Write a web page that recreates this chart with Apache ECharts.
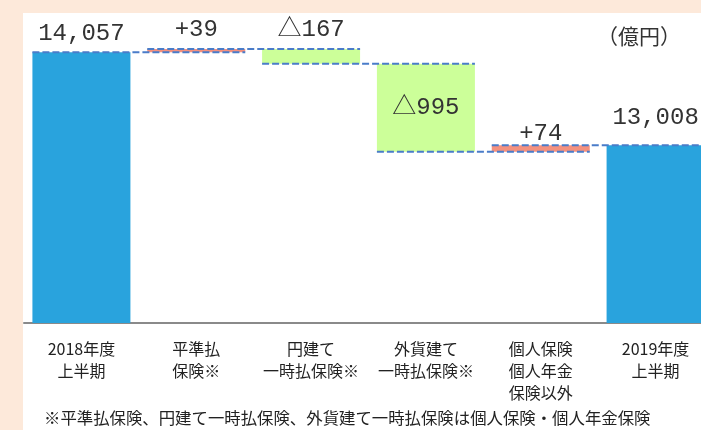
<!DOCTYPE html>
<html><head><meta charset="utf-8">
<script src="https://cdn.jsdelivr.net/npm/echarts@6/dist/echarts.min.js"></script>
<style>html,body{margin:0;padding:0;background:#fde9da;}#c{width:701px;height:430px;}</style>
</head><body><div id="c"></div>
<script>
const categories = ['2018年度\n上半期','平準払\n保険※','円建て\n一時払保険※','外貨建て\n一時払保険※','個人保険\n個人年金\n保険以外','2019年度\n上半期'];
const startTotal = 14057;
const changes = [39, -167, -995, 74];
const endTotal = 13008;
const unitLabel = '（億円）';
const footnote = '※平準払保険、円建て一時払保険、外貨建て一時払保険は個人保険・個人年金保険';

// derived waterfall pieces
const levels = [startTotal];
changes.forEach(c => levels.push(levels[levels.length-1] + c));
const baseData = ['-'], deltaData = ['-'], totalData = [startTotal];
changes.forEach((c, i) => {
  baseData.push(Math.min(levels[i], levels[i+1]));
  deltaData.push(Math.abs(c));
  totalData.push('-');
});
baseData.push('-'); deltaData.push('-'); totalData.push(endTotal);
// connector between category i and i+1 at the running level after bar i
const connectors = [];
for (let i = 0; i < categories.length - 1; i++) connectors.push([i, levels[Math.min(i, levels.length-1)]]);

const fmt = v => v.toLocaleString('en-US');
const numFont = '"Liberation Mono","Noto Sans CJK JP",monospace';
const deltaDist = [7, 7, 0, 0];
const totalDist = [7, 0, 0, 0, 0, 16];
const deltaColors = changes.map(c => c >= 0 ? '#f4917f' : '#ccff99');

const chart = echarts.init(document.getElementById('c'), null, {renderer:'canvas'});
chart.setOption({
  backgroundColor: '#fde9da',
  animation: false,
  graphic: [
    {type:'rect', z:-10, shape:{x:23, y:13, width:700, height:430}, style:{fill:'#ffffff'}},
    {type:'text', left:597, top:26, style:{text:unitLabel, font:'21px "Noto Sans CJK JP"', fill:'#333'}},
    {type:'text', left:44, top:410, style:{text:footnote, font:'16.4px "Noto Sans CJK JP"', fill:'#222'}}
  ],
  grid: {left:24, right:-12, top:22, bottom:107, outerBoundsMode:'none'},
  xAxis: {
    type:'category', data:categories,
    axisLine:{lineStyle:{color:'#8a8a8a', width:2}},
    axisTick:{show:false},
    axisLabel:{interval:0, color:'#222', fontSize:16, lineHeight:22, margin:15, fontFamily:'"Noto Sans CJK JP"'}
  },
  yAxis: {type:'value', min:11000, max:14400, show:false, splitLine:{show:false}},
  series: [
    {type:'bar', stack:'w', barWidth:98, data:baseData, itemStyle:{color:'transparent'}, silent:true},
    {type:'bar', stack:'w', barWidth:98,
      data: deltaData.map((v, i) => {
        if (v === '-') return '-';
        const c = changes[i-1];
        const inside = i === 3;
        return {value:v, itemStyle:{color:deltaColors[i-1]},
          label:{show:true, position: inside ? 'inside' : 'top', distance: deltaDist[i-1],
            formatter: (c >= 0 ? '+' : '△') + Math.abs(c),
            fontSize:24, fontFamily:numFont, color:'#333'}};
      })
    },
    {type:'bar', stack:'w', barWidth:98,
      data: totalData.map((v, i) => v === '-' ? '-' : {value:v, itemStyle:{color:'#29a3dd'},
        label:{show:true, position:'top', distance: totalDist[i], formatter: fmt(v), fontSize:24, fontFamily:numFont, color:'#333'}})
    },
    {type:'custom', z:10, data: connectors,
      renderItem: (params, api) => {
        const i = api.value(0), lvl = api.value(1);
        const p1 = api.coord([i, lvl]);
        const p2 = api.coord([i+1, lvl]);
        const hw = 49;
        return {type:'line', shape:{x1:p1[0]-hw, y1:p1[1], x2:p2[0]+hw, y2:p2[1]},
          style:{stroke:'#4a7cc9', lineWidth:2, lineDash:[7,3]}};
      }
    }
  ]
});
</script></body></html>
